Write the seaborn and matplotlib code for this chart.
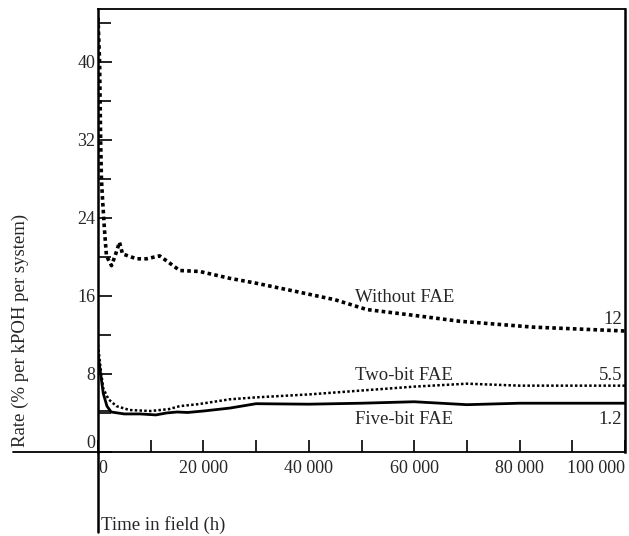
import matplotlib
matplotlib.use("Agg")
import matplotlib.pyplot as plt
import seaborn as sns
import pandas as pd

# ---- data ----
without_h = [0, 300, 500, 650, 850, 1200, 1600, 2560, 3300, 4080, 4650, 7300, 9200,
             11700, 13500, 15500, 19300, 25000, 30000, 38000, 45000, 51000, 60000,
             68600, 82500, 100000]
without_v = [44.5, 40, 32, 28, 26, 23, 20.1, 19.1, 20.2, 21.5, 20.3, 19.8, 19.8,
             20.1, 19.4, 18.6, 18.5, 17.8, 17.3, 16.4, 15.6, 14.6, 14.0,
             13.4, 12.8, 12.4]

two_h = [0, 500, 1000, 2000, 3500, 6000, 10000, 13500, 15500, 19000, 25000, 30000,
         40000, 50000, 60000, 70000, 75000, 80000, 100000]
two_v = [11.0, 8.5, 6.5, 5.4, 4.7, 4.3, 4.2, 4.4, 4.7, 4.9, 5.4, 5.6,
         5.9, 6.3, 6.7, 7.0, 6.9, 6.8, 6.8]

five_h = [0, 500, 1000, 1700, 2500, 5000, 8000, 11000, 13000, 15000, 17000, 20000,
          25000, 30000, 40000, 50000, 60000, 70000, 80000, 100000]
five_v = [10.0, 8.0, 6.0, 4.7, 4.1, 3.9, 3.9, 3.8, 4.0, 4.1, 4.05, 4.2,
          4.5, 4.95, 4.9, 5.0, 5.15, 4.85, 5.0, 5.0]

baseline_v = 4.2
baseline_end_h = 2200

series_names = ["Without FAE", "Two-bit FAE", "Five-bit FAE"]
end_labels = ["12", "5.5", "1.2"]

y_major = [0, 8, 16, 24, 32, 40]
y_minor = [4, 12, 20, 28, 36, 44]
x_ticks = [0, 10000, 20000, 30000, 40000, 50000, 60000, 70000, 80000, 90000, 100000]
x_labels = ["0", "", "20 000", "", "40 000", "", "60 000", "", "80 000", "", "100 000"]

# ---- plot ----
sns.set_style("ticks")
plt.rcParams["font.family"] = ["Liberation Serif", "DejaVu Serif"]

fig = plt.figure(figsize=(6.29, 5.36), dpi=100)
ax = fig.add_axes([98 / 629, 1 - 452 / 536, 527 / 629, 443 / 536])

df_w = pd.DataFrame({"h": without_h, "v": without_v})
df_t = pd.DataFrame({"h": two_h, "v": two_v})
df_f = pd.DataFrame({"h": five_h, "v": five_v})

sns.lineplot(data=df_w, x="h", y="v", ax=ax, color="black", lw=2.6,
             linestyle=(0, (1, 0.9)), estimator=None, sort=False)
sns.lineplot(data=df_t, x="h", y="v", ax=ax, color="black", lw=1.8,
             linestyle=(0, (1, 0.9)), estimator=None, sort=False)
sns.lineplot(data=df_f, x="h", y="v", ax=ax, color="black", lw=2.0,
             estimator=None, sort=False)
ax.hlines(baseline_v, 0, baseline_end_h, color="black", lw=1.2)

ax.set_xlim(0, 100000)
ax.set_ylim(0, 45.4)
ax.set_xlabel("")
ax.set_ylabel("")

ax.set_yticks(y_major)
ax.set_yticks(y_minor, minor=True)
ax.set_yticklabels([str(v) for v in y_major], fontsize=13)
ax.set_xticks(x_ticks)
ax.set_xticklabels(x_labels, fontsize=13)
ax.tick_params(axis="y", which="major", direction="in", length=10, width=1.2, pad=2, color="black")
ax.tick_params(axis="y", which="minor", direction="in", length=9, width=1.2, color="black")
ax.tick_params(axis="x", which="major", direction="in", length=9, width=1.2, pad=6, color="black")

xl = ax.get_xticklabels()
xl[0].set_ha("left")
xl[-1].set_ha("right")
yl = ax.get_yticklabels()
yl[0].set_va("bottom")

for s in ["left", "right"]:
    ax.spines[s].set_linewidth(1.8)
for s in ["top", "bottom"]:
    ax.spines[s].set_linewidth(1.3)
for s in ax.spines.values():
    s.set_color("black")

# axis line extensions (x-axis to the left, y-axis downward)
ax.plot([-85 / 527, 0], [0, 0], transform=ax.transAxes, color="black", lw=1.3, clip_on=False)
ax.plot([0, 0], [0, -80 / 443], transform=ax.transAxes, color="black", lw=1.8, clip_on=False)

# series labels
label_x = 355
for name, py in zip(series_names, [298, 375, 419]):
    fig.text(label_x / 629, 1 - py / 536, name, fontsize=13.5, ha="left", va="center")
for ylab, py in zip(end_labels, [319, 375, 419]):
    fig.text(622 / 629, 1 - py / 536, ylab, fontsize=13.5, ha="right", va="center")

fig.text(20 / 629, 1 - 330 / 536, "Rate (% per kPOH per system)", fontsize=13.5,
         rotation=90, ha="center", va="center")
fig.text(101 / 629, 1 - 525 / 536, "Time in field (h)", fontsize=13.5, ha="left", va="center")

fig.savefig("out.png", dpi=100)
